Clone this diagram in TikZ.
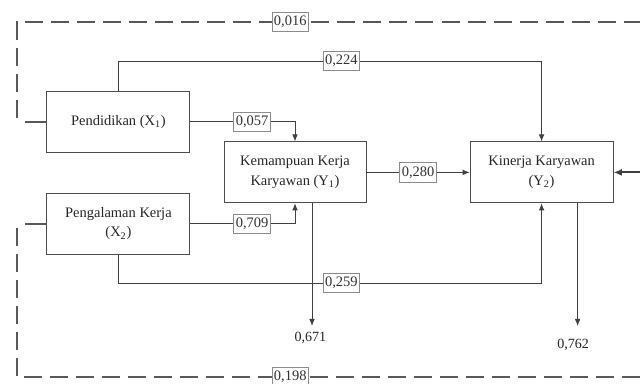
\documentclass[tikz,border=0pt]{standalone}
\usepackage{fontspec}
\setmainfont{Liberation Serif}
\usetikzlibrary{arrows.meta}

\begin{document}
\begin{tikzpicture}[
        box/.style={draw=black!70, line width=0.6pt, minimum width=3.575cm,
            minimum height=1.525cm, align=center, inner sep=2pt,
            text=black!85, font=\fontsize{10.3}{14}\selectfont},
        coef/.style={draw=black!45, fill=white, solid, line width=0.5pt,
            inner xsep=1.5pt, inner ysep=2.6pt,
            text=black!80, font=\fontsize{10.3}{11}\selectfont},
        res/.style={text=black!85, font=\fontsize{10}{11}\selectfont},
        link/.style={draw=black!75, line width=0.6pt},
        arr/.style={link, -{Latex[length=5pt,width=4pt]}},
        corr/.style={draw=black!65, line width=1.5pt, dash pattern=on 12.8pt off 5.7pt},
        stub/.style={draw=black!65, line width=1.3pt}
    ]

    \useasboundingbox (0,0) rectangle (16,-9.575);
    \clip (0,0) rectangle (16,-9.575);

    % Define positions of the rows and sides
    \def\lpos{0.425}  % left dashed side
    \def\rpos{16.5}   % right side, cut off by the page
    \def\topy{-0.55}
    \def\boty{-9.425}
    \def\upy{-1.525}
    \def\lowy{-7.075}

    \coordinate (tl) at (\lpos,\topy);
    \coordinate (tr) at (\rpos,\topy);
    \coordinate (bl) at (\lpos,\boty);
    \coordinate (br) at (\rpos,\boty);
    \coordinate (up) at (0,\upy);
    \coordinate (low) at (0,\lowy);
    \coordinate (rin) at (\rpos,-4.31);

    % Draw the variables
    \node[box] (x1) at (2.96,-3.04) {Pendidikan (X\textsubscript{1})};
    \node[box] (x2) at (2.96,-5.59) {Pengalaman Kerja\\(X\textsubscript{2})};
    \node[box, minimum width=3.55cm] (y1) at (7.375,-4.31) {Kemampuan Kerja\\Karyawan (Y\textsubscript{1})};
    \node[box] (y2) at (13.54,-4.31) {Kinerja Karyawan\\(Y\textsubscript{2})};

    % Residuals
    \node[res] (r1) at (7.76,-8.45) {0,671};
    \node[res] (r2) at (14.33,-8.63) {0,762};
    \coordinate (r1tip) at (7.8,-8.15);
    \coordinate (r2tip) at (14.44,-8.15);

    % Draw the paths
    \draw[arr] (x1.east) -| node[coef, pos=0.295] {0,057} (y1.north);
    \draw[arr] (x2.east) -| node[coef, pos=0.295] {0,709} (y1.south);
    \draw[arr] (y1.east) -- node[coef] {0,280} (y2.west);
    \draw[arr] (x1.north) -- (x1.north |- up) -- node[coef, pos=0.527] {0,224} (y2.north |- up) -- (y2.north);
    \draw[arr] (x2.south) -- (x2.south |- low) -- node[coef, pos=0.527] {0,259} (y2.south |- low) -- (y2.south);

    \draw[arr] (y1.south -| r1tip) -- (r1tip);
    \draw[arr] (y2.south -| r2tip) -- (r2tip);

    % Correlations (dashed), running off the right edge
    \draw[stub] (x1.west) -- ([xshift=0.2cm]x1.west -| tl);
    \draw[stub] (x2.west) -- ([xshift=0.2cm]x2.west -| bl);
    \draw[corr, dash phase=15.7pt] (x1.west -| tl) -- (tl) -- node[coef, pos=0.425] {0,016} (tr);
    \draw[corr, dash phase=15.7pt] (x2.west -| bl) -- (bl) -- node[coef, pos=0.425] {0,198} (br);
    \draw[draw=black!75, line width=1.5pt, -{Latex[length=6pt,width=5pt]}] (rin) -- (y2.east);

\end{tikzpicture}
\end{document}
